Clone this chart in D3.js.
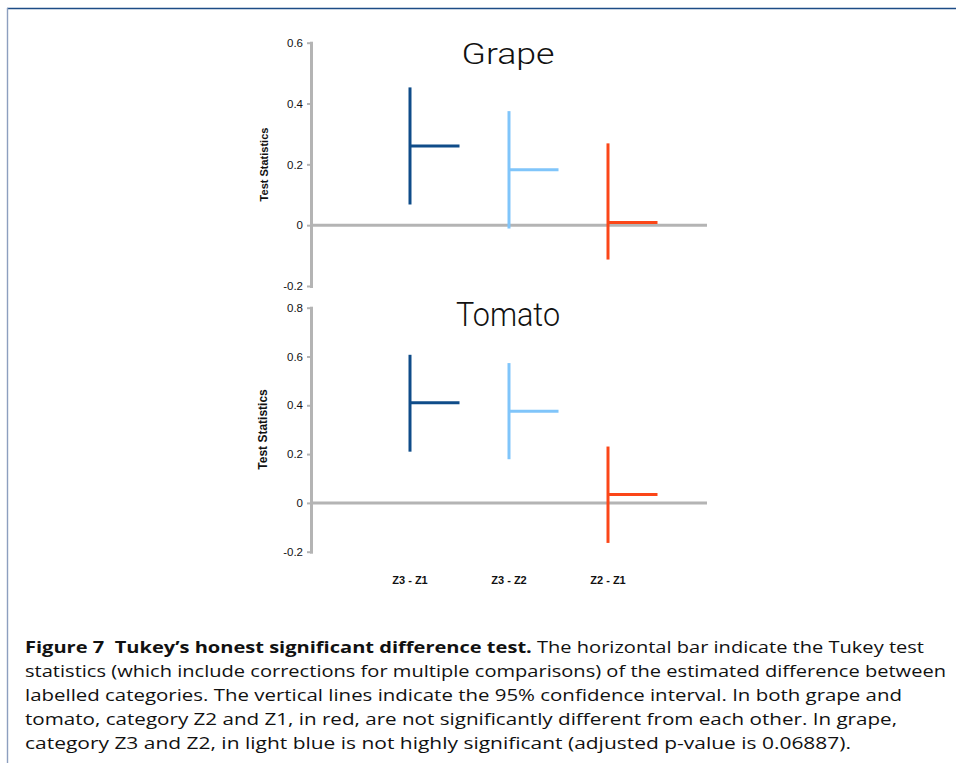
<!DOCTYPE html>
<html>
<head>
<meta charset="utf-8">
<script src="https://cdn.jsdelivr.net/npm/d3@7"></script>
<style>
  html, body { margin: 0; padding: 0; background: #fff; }
  svg { display: block; }
</style>
</head>
<body>
<script>
// ---- data ----
const categories = ["Z3 - Z1", "Z3 - Z2", "Z2 - Z1"];
const seriesColors = ["#0f4c89", "#80c5fa", "#fb4618"];

const grapeEstimate = [0.260, 0.182, 0.009];
const grapeLower    = [0.068, -0.011, -0.113];
const grapeUpper    = [0.453, 0.375, 0.269];
const grapeTicks    = [-0.2, 0, 0.2, 0.4, 0.6];

const tomatoEstimate = [0.410, 0.376, 0.034];
const tomatoLower    = [0.210, 0.179, -0.164];
const tomatoUpper    = [0.607, 0.573, 0.231];
const tomatoTicks    = [-0.2, 0, 0.2, 0.4, 0.6, 0.8];

const yTitle = "Test Statistics";
const captionBold = "Figure 7  Tukey\u2019s honest significant difference test.";
const captionLines = [
  " The horizontal bar indicate the Tukey test",
  "statistics (which include corrections for multiple comparisons) of the estimated difference between",
  "labelled categories. The vertical lines indicate the 95% confidence interval. In both grape and",
  "tomato, category Z2 and Z1, in red, are not significantly different from each other. In grape,",
  "category Z3 and Z2, in light blue is not highly significant (adjusted p-value is 0.06887)."
];

// ---- layout ----
const W = 956, H = 763;
const svg = d3.select("body").append("svg").attr("width", W).attr("height", H);

// frame
svg.append("line").attr("x1", 7).attr("x2", W).attr("y1", 8.5).attr("y2", 8.5)
  .attr("stroke", "#1d4c86").attr("stroke-width", 1.6);
svg.append("line").attr("x1", 7.5).attr("x2", 7.5).attr("y1", 8).attr("y2", H)
  .attr("stroke", "#8d9fbf").attr("stroke-width", 1.4);

const x = d3.scalePoint().domain(categories).range([311, 707]).padding(1);
const axisGray = "#b4b4b4";

function panel(opts) {
  const g = svg.append("g");
  const y = d3.scaleLinear().domain(opts.domain).range(opts.range);

  // y axis
  const ax = g.append("g").attr("transform", `translate(${x.range()[0]},0)`)
    .call(d3.axisLeft(y).tickValues(opts.ticks).tickSize(4).tickSizeOuter(0).tickPadding(4)
      .tickFormat(d => String(d)));
  ax.select(".domain").attr("stroke", axisGray).attr("stroke-width", 3).attr("stroke-linecap", "square");
  ax.selectAll(".tick line").attr("stroke", axisGray).attr("stroke-width", 2);
  ax.selectAll(".tick text").attr("fill", "#111")
    .style("font-family", "'Liberation Sans', Arial, sans-serif")
    .style("font-size", opts.tickFont + "px");

  // zero line
  g.append("line").attr("x1", x.range()[0]).attr("x2", x.range()[1])
    .attr("y1", y(0)).attr("y2", y(0))
    .attr("stroke", axisGray).attr("stroke-width", 3);

  // title
  g.append("text").text(opts.title)
    .attr("x", 508).attr("y", opts.titleY)
    .attr("text-anchor", "middle")
    .attr("textLength", opts.titleLen).attr("lengthAdjust", "spacingAndGlyphs")
    .style("font-family", "'Roboto', 'Open Sans', sans-serif")
    .style("font-weight", 300)
    .style("font-size", opts.titleFont + "px")
    .attr("fill", "#111");

  // y title
  g.append("text").text(yTitle)
    .attr("transform", `translate(${opts.yTitleX},${opts.yTitleY}) rotate(-90)`)
    .attr("text-anchor", "middle")
    .style("font-family", "'Liberation Sans', Arial, sans-serif")
    .style("font-weight", "bold")
    .style("font-size", opts.yTitleFont + "px")
    .attr("fill", "#111");

  const half = x.step() * 0.5;
  categories.forEach((c, i) => {
    g.append("line")
      .attr("x1", x(c)).attr("x2", x(c))
      .attr("y1", y(opts.upper[i])).attr("y2", y(opts.lower[i]))
      .attr("stroke", seriesColors[i]).attr("stroke-width", 3);
    g.append("line")
      .attr("x1", x(c)).attr("x2", x(c) + half)
      .attr("y1", y(opts.est[i])).attr("y2", y(opts.est[i]))
      .attr("stroke", seriesColors[i]).attr("stroke-width", 3);
  });
  return g;
}

panel({
  domain: [-0.2, 0.6], range: [286, 42.7], ticks: grapeTicks,
  est: grapeEstimate, lower: grapeLower, upper: grapeUpper,
  title: "Grape", titleY: 63.5, titleFont: 30, titleLen: 93,
  yTitleX: 267.5, yTitleY: 164.5, yTitleFont: 11, tickFont: 11.5
});
panel({
  domain: [-0.2, 0.8], range: [551.7, 307.7], ticks: tomatoTicks,
  est: tomatoEstimate, lower: tomatoLower, upper: tomatoUpper,
  title: "Tomato", titleY: 326, titleFont: 33, titleLen: 104,
  yTitleX: 267, yTitleY: 429.5, yTitleFont: 12, tickFont: 11.5
});

// x category labels
svg.append("g").selectAll("text").data(categories).join("text")
  .attr("x", d => x(d)).attr("y", 584)
  .attr("text-anchor", "middle")
  .style("font-family", "'Liberation Sans', Arial, sans-serif")
  .style("font-weight", "bold")
  .style("font-size", "11px")
  .attr("fill", "#111")
  .text(d => d);

// caption
const capX = 25, capY0 = 652.5, capDy = 24;
const lineEnds = [924, 946, 902, 897, 851];
const cap = svg.append("g")
  .style("font-family", "'Open Sans', 'DejaVu Sans', sans-serif")
  .style("font-size", "15.5px")
  .attr("fill", "#111");
captionLines.forEach((t, i) => {
  const tx = cap.append("text").attr("x", capX).attr("y", capY0 + i * capDy)
    .attr("textLength", lineEnds[i] - capX).attr("lengthAdjust", "spacingAndGlyphs")
    .attr("xml:space", "preserve").style("white-space", "pre");
  if (i === 0) tx.append("tspan").style("font-weight", "bold").text(captionBold);
  tx.append("tspan").text(t);
});
</script>
</body>
</html>
